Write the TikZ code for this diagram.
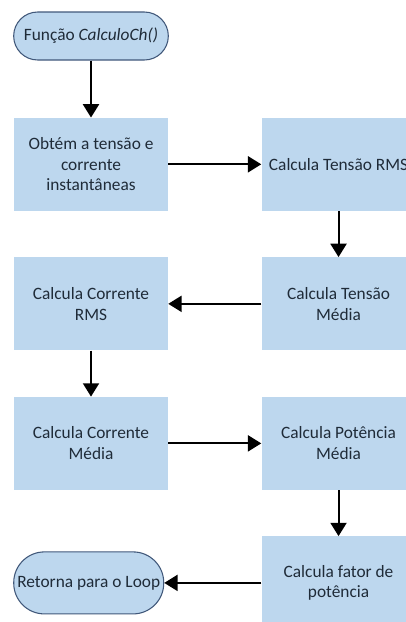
\documentclass[tikz,border=0pt]{standalone}
\usepackage{fontspec}
\setmainfont{Carlito}
\usetikzlibrary{positioning, arrows.meta}

\definecolor{boxfill}{HTML}{BDD7EE}
\definecolor{termline}{HTML}{41587A}
\definecolor{txt}{HTML}{1F2B38}

\begin{document}
\begin{tikzpicture}[
  % --- Style definitions ---
  proc/.style={rectangle, fill=boxfill, minimum width=115.5pt, minimum height=69.75pt,
               align=center, text=txt, font=\fontsize{13}{15.5}\selectfont, inner sep=2pt},
  term/.style={rectangle, rounded corners=18pt, fill=boxfill, draw=termline, line width=0.8pt,
               minimum width=116pt, minimum height=36pt, align=center, text=txt,
               font=\fontsize{13}{15.5}\selectfont, inner sep=2pt},
  arr/.style={-{Triangle[length=10pt, width=12pt]}, line width=1.5pt, color=black},
]

% ===== Frame =====
\useasboundingbox (0,0) rectangle (304.5pt,-466.5pt);

% ===== Nodes =====

% --- Start ---
\node[term] (start) at (68.25pt,-27pt) {Função \textit{CalculoCh()}};

% --- Row 1 ---
\node[proc, below=42.75pt of start] (obtem) {Obtém a tensão e\\corrente\\instantâneas};
\node[proc, right=69.75pt of obtem] (vrms) {Calcula Tensão RMS};

% --- Row 2 ---
\node[proc, below=34.5pt of vrms] (vmed) {Calcula Tensão\\Média};
\node[proc, left=69.75pt of vmed] (irms) {Calcula Corrente\\RMS};

% --- Row 3 ---
\node[proc, below=34.5pt of irms] (imed) {Calcula Corrente\\Média};
\node[proc, right=69.75pt of imed] (pmed) {Calcula Potência\\Média};

% --- Row 4 ---
\node[proc, below=34.5pt of pmed] (fp) {Calcula fator de\\potência};
\node[term, left=72.75pt of fp, minimum width=112.5pt, minimum height=46.5pt,
      rounded corners=23pt] (fim) {Retorna para o Loop};

% ===== Arrows =====
\draw[arr] (start) -- (obtem);
\draw[arr] (obtem) -- (vrms);
\draw[arr] (vrms) -- (vmed);
\draw[arr] (vmed) -- (irms);
\draw[arr] (irms) -- (imed);
\draw[arr] (imed) -- (pmed);
\draw[arr] (pmed) -- (fp);
\draw[arr] (fp) -- (fim);

\end{tikzpicture}
\end{document}
